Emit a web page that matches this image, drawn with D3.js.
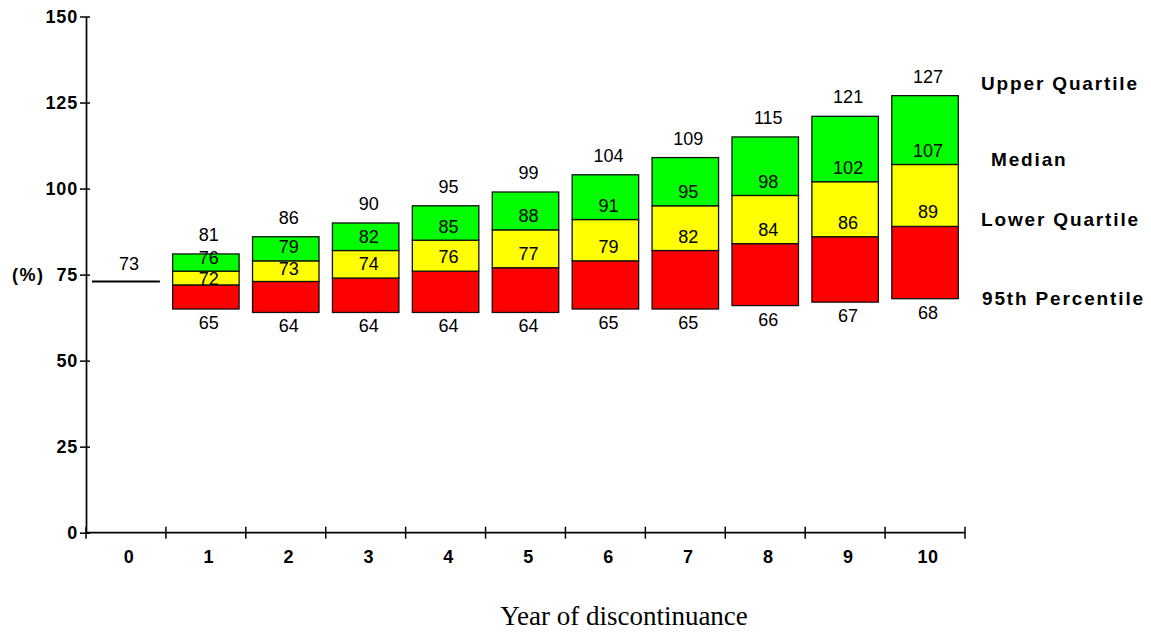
<!DOCTYPE html>
<html>
<head>
<meta charset="utf-8">
<script src="https://cdn.jsdelivr.net/npm/d3@7"></script>
<style>
  html, body { margin: 0; padding: 0; background: #fff; }
  svg { display: block; }
  text { font-family: "Liberation Sans", Arial, sans-serif; fill: #000; }
</style>
</head>
<body>
<svg id="chart" width="1151" height="632"></svg>
<script>
// ---- data ----
const years = ["0", "1", "2", "3", "4", "5", "6", "7", "8", "9", "10"];
const baselineYear0 = 73;
const barYears = ["1", "2", "3", "4", "5", "6", "7", "8", "9", "10"];
const pct95 = [65, 64, 64, 64, 64, 65, 65, 66, 67, 68];
const lowerQuartile = [72, 73, 74, 76, 77, 79, 82, 84, 86, 89];
const median = [76, 79, 82, 85, 88, 91, 95, 98, 102, 107];
const upperQuartile = [81, 86, 90, 95, 99, 104, 109, 115, 121, 127];
const yTicks = [0, 25, 50, 75, 100, 125, 150];
const legendLabels = ["Upper Quartile", "Median", "Lower Quartile", "95th Percentile"];
const xTitle = "Year of discontinuance";
const yUnit = "(%)";

// ---- layout ----
const svg = d3.select("#chart");
const x0 = 86, x1 = 965, yTop = 16.5, yBottom = 532.7;

const x = d3.scaleBand().domain(years).range([x0, x1]).paddingInner(0).paddingOuter(0);
const y = d3.scaleLinear().domain([0, 150]).range([yBottom, yTop]);
const barPad = 0.084;
const bw = x.step() * (1 - 2 * barPad);
const bx = d => x(d) + x.step() * barPad;

// bars
const rows = barYears.map((d, i) => ({ year: d, p: pct95[i], lq: lowerQuartile[i], med: median[i], uq: upperQuartile[i] }));
const segs = [];
rows.forEach(r => {
  segs.push({ year: r.year, lo: r.p, hi: r.lq, color: "#ff0000" });
  segs.push({ year: r.year, lo: r.lq, hi: r.med, color: "#ffff00" });
  segs.push({ year: r.year, lo: r.med, hi: r.uq, color: "#00ff00" });
});
svg.append("g").selectAll("rect").data(segs).join("rect")
  .attr("x", d => bx(d.year))
  .attr("width", bw)
  .attr("y", d => y(d.hi))
  .attr("height", d => y(d.lo) - y(d.hi))
  .attr("fill", d => d.color)
  .attr("stroke", "#111")
  .attr("stroke-width", 1.3);

// data labels
const lbl = svg.append("g").attr("font-size", 18).attr("text-anchor", "middle");
const cx = d => x(d) + x.step() / 2 + 3;
rows.forEach(r => {
  const yH = y(r.lq) - y(r.med);
  const lqOff = yH < 16 ? 0 : Math.min(8, 0.3 * yH);
  lbl.append("text").attr("x", cx(r.year)).attr("y", y(r.uq) - 13).text(r.uq);
  lbl.append("text").attr("x", cx(r.year)).attr("y", y(r.med) - 7.5).text(r.med);
  lbl.append("text").attr("x", cx(r.year)).attr("y", y(r.lq) - lqOff).text(r.lq);
  lbl.append("text").attr("x", cx(r.year)).attr("y", y(r.p) + 20).text(r.p);
});

// year 0 line
svg.append("line")
  .attr("x1", x("0") + 6).attr("x2", x("0") + x.step() - 6)
  .attr("y1", y(baselineYear0)).attr("y2", y(baselineYear0))
  .attr("stroke", "#000").attr("stroke-width", 2);
lbl.append("text").attr("x", x("0") + x.step() / 2 + 3).attr("y", y(baselineYear0) - 11).text(baselineYear0);

// y axis
const yAxis = svg.append("g").attr("transform", `translate(${x0},0)`)
  .call(d3.axisLeft(y).tickValues(yTicks).tickSize(6).tickPadding(2).tickSizeOuter(0));
yAxis.select(".domain").attr("stroke", "#000").attr("stroke-width", 1.7);
yAxis.selectAll(".tick line").attr("x1", 4).attr("stroke", "#000").attr("stroke-width", 1.5);
yAxis.selectAll(".tick text").attr("font-size", 18).attr("font-weight", "bold").attr("letter-spacing", 0.8)
  .attr("font-family", "'Liberation Sans', Arial, sans-serif").attr("fill", "#000");

// y unit
svg.append("text").attr("x", 12).attr("y", y(75)).attr("dy", "0.36em")
  .attr("font-size", 18).attr("font-weight", "bold").attr("letter-spacing", 1.5).text(yUnit);

// x axis
const xAxis = svg.append("g").attr("transform", `translate(0,${yBottom})`);
xAxis.append("line").attr("x1", x0).attr("x2", x1).attr("stroke", "#000").attr("stroke-width", 1.7);
const bounds = years.map(d => x(d)).concat([x1]);
xAxis.selectAll("line.tk").data(bounds).join("line").attr("class", "tk")
  .attr("x1", d => d).attr("x2", d => d).attr("y1", -6).attr("y2", 6)
  .attr("stroke", "#000").attr("stroke-width", 1.5);
const xLab = svg.append("g").attr("transform", `translate(${3},${yBottom})`)
  .call(d3.axisBottom(x).tickSize(0).tickPadding(18));
xLab.select(".domain").remove();
xLab.selectAll(".tick text").attr("font-size", 18).attr("font-weight", "bold").attr("letter-spacing", 0.5)
  .attr("font-family", "'Liberation Sans', Arial, sans-serif").attr("fill", "#000");

// x title
svg.append("text").attr("x", 624).attr("y", 625).attr("text-anchor", "middle")
  .style("font-family", "'Liberation Serif', 'Times New Roman', serif")
  .attr("font-size", 27).text(xTitle);

// legend labels on the right
const legendPos = [[981, 90], [991, 166], [981, 226], [982, 305]];
svg.append("g").selectAll("text").data(legendLabels).join("text")
  .attr("x", (d, i) => legendPos[i][0]).attr("y", (d, i) => legendPos[i][1])
  .attr("font-size", 19).attr("font-weight", "bold").attr("letter-spacing", 1.85)
  .text(d => d);
</script>
</body>
</html>
